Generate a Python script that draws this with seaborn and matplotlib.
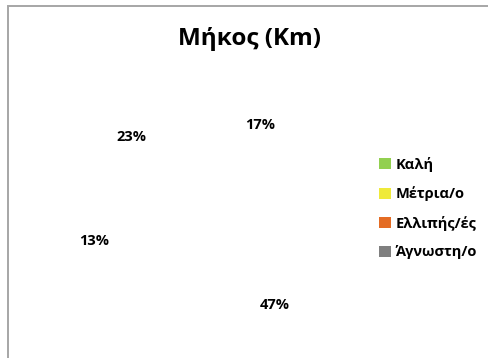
import matplotlib
matplotlib.use("Agg")
import matplotlib.pyplot as plt
from matplotlib.patches import Patch, Rectangle
import numpy as np
import seaborn as sns

# Road length by condition
categories = ["Καλή", "Μέτρια/ο", "Ελλιπής/ές", "Άγνωστη/ο"]
shares = [17, 47, 13, 23]
colors = ["#92D050", "#EFEA3A", "#E46C24", "#7F7F7F"]
title = "Μήκος (Km)"

sns.set_theme(style="white")
plt.rcParams["font.family"] = ["Open Sans", "DejaVu Sans"]

fig = plt.figure(figsize=(4.88, 3.58), dpi=100)
fig.patch.set_facecolor("white")

# chart-area frame (runs past the right and bottom edges)
fig.add_artist(Rectangle((8 / 488, -0.05), 1.2, (358 - 6) / 358 + 0.05,
                         transform=fig.transFigure, fill=False,
                         edgecolor="#A6A6A6", linewidth=1.4))

ax = fig.add_axes([50 / 488, 8 / 358, 270 / 488, 270 / 358])
wedges, texts, autotexts = ax.pie(
    shares, colors=colors, startangle=90, counterclock=False,
    autopct=lambda p: f"{p:.0f}%", pctdistance=0.8,
    textprops=dict(fontsize=10.5, fontweight="bold", color="black"),
)
# slices are rendered without fill; only their labels are visible
for w in wedges:
    w.set_alpha(0)

# best-fit style label placement: radial factor and angular nudge (deg, clockwise)
radial = [0.87, 0.94, 0.70, 0.70]
nudge = [9.0, -10.5, 0.0, 7.0]
start = 90.0
for t, v, r, d in zip(autotexts, shares, radial, nudge):
    mid = np.deg2rad(start - v * 3.6 / 2 - d)
    t.set_position((r * np.cos(mid), r * np.sin(mid)))
    start -= v * 3.6
ax.set_xlim(-1, 1)
ax.set_ylim(-1, 1)
ax.set_aspect("equal")
ax.axis("off")

fig.text(250 / 488, 1 - 39 / 358, title, ha="center", va="center",
         fontsize=17.5, fontweight="bold", color="black")

handles = [Patch(facecolor=c, edgecolor="none") for c in colors]
fig.legend(handles, categories, loc="upper left",
           bbox_to_anchor=(373 / 488, 1 - 151 / 358), frameon=False,
           prop=dict(size=10.5, weight="bold"), labelcolor="black",
           handlelength=0.8, handleheight=0.8, handletextpad=0.35,
           labelspacing=1.0, borderaxespad=0)

fig.savefig("out.png", dpi=100)
